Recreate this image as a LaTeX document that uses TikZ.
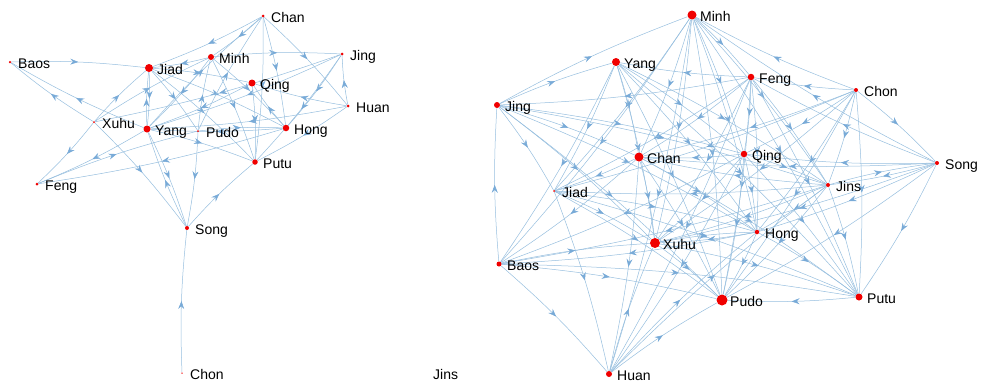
\documentclass[tikz,border=0pt]{standalone}
\usepackage{fontspec}
\setmainfont{Liberation Sans}
\usetikzlibrary{arrows.meta,decorations.markings}
\pgfdeclarelayer{edges}
\pgfsetlayers{edges,main}
\definecolor{edgeblue}{RGB}{150,190,222}
\definecolor{tipblue}{RGB}{120,170,215}
\definecolor{dotred}{RGB}{240,0,0}
\tikzset{
  dot/.style={circle,fill=dotred,draw=none,inner sep=0pt},
  lbl/.style={anchor=base west,inner sep=0pt,font=\fontsize{14}{16}\selectfont,text=black},
  edge/.style={draw=edgeblue,line width=0.5pt,bend left=4,
    postaction={decorate},
    decoration={markings,mark=at position 0.5 with {\arrow[tipblue]{Stealth[length=8pt,width=6pt,inset=2.8pt]}}}}
}
\newcommand{\gnode}[5]{%
  \node[dot,minimum size=#4pt] (#1) at (#2,#3) {};
  \node[lbl] (#1lab) at (#2+8,#3+6) {#5};}
\begin{document}
\begin{tikzpicture}[x=1pt,y=-1pt]
\useasboundingbox (0,0) rectangle (983,386);
% ---------- left graph nodes
\gnode{LChan}{263}{16}{3}{Chan}
\gnode{LBaos}{10}{62}{2.5}{Baos}
\gnode{LJiad}{149}{68}{8}{Jiad}
\gnode{LMinh}{211}{57}{6}{Minh}
\gnode{LJing}{342}{54}{3}{Jing}
\gnode{LQing}{252}{83}{7}{Qing}
\gnode{LHuan}{348}{106}{3}{Huan}
\gnode{LXuhu}{94}{122}{2}{Xuhu}
\gnode{LYang}{147}{129}{7}{Yang}
\gnode{LPudo}{198}{131}{2}{Pudo}
\gnode{LHong}{286}{128}{6.5}{Hong}
\gnode{LPutu}{255}{162}{5.5}{Putu}
\gnode{LFeng}{37}{184}{3}{Feng}
\gnode{LSong}{187}{228}{4}{Song}
\gnode{LChon}{182}{373}{1.5}{Chon}
\node[lbl] (LJins) at (433,379) {Jins};
% ---------- right graph nodes
\gnode{RMinh}{692}{15}{9}{Minh}
\gnode{RYang}{616}{62}{8}{Yang}
\gnode{RFeng}{751}{77}{6.5}{Feng}
\gnode{RChon}{856}{90}{4}{Chon}
\gnode{RJing}{497}{105}{6}{Jing}
\gnode{RChan}{639}{157}{9}{Chan}
\gnode{RQing}{744}{154}{6.5}{Qing}
\gnode{RSong}{937}{163}{4}{Song}
\gnode{RJins}{828}{185}{4}{Jins}
\gnode{RJiad}{554}{191}{2}{Jiad}
\gnode{RHong}{757}{232}{4.5}{Hong}
\gnode{RXuhu}{655}{243}{10}{Xuhu}
\gnode{RBaos}{499}{264}{5}{Baos}
\gnode{RPudo}{722}{300}{11}{Pudo}
\gnode{RPutu}{859}{297}{7}{Putu}
\gnode{RHuan}{609}{374}{6}{Huan}
\begin{pgfonlayer}{edges}
% ---------- left graph edges
\foreach \a/\b in {Baos/Jiad,Yang/Baos,Xuhu/Baos,Xuhu/Feng,Yang/Feng,Feng/Pudo,Hong/Feng,
  Xuhu/Jiad,Xuhu/Minh,Xuhu/Song,Jiad/Yang,Yang/Jiad,Jiad/Putu,Jiad/Hong,Jiad/Pudo,Chan/Jiad,Yang/Chan,
  Minh/Jiad,Minh/Jing,Chan/Putu,Chan/Huan,Chan/Hong,Huan/Jing,Jing/Yang,Jing/Hong,Huan/Yang,
  Hong/Yang,Qing/Yang,Minh/Putu,Minh/Hong,Minh/Yang,Yang/Song,Song/Yang,Pudo/Song,Song/Putu,
  Chon/Song,Yang/Putu,Pudo/Hong,Huan/Putu,Hong/Qing,Jing/Xuhu,Pudo/Chan,Huan/Qing,Jiad/Qing,
  Jing/Putu,Pudo/Minh,Qing/Putu,Chan/Minh}
  \draw[edge] (L\a) to (L\b);
% ---------- right graph edges
\foreach \a/\b in {Jing/Minh,Jing/Yang,Feng/Yang,Chon/Minh,Song/Minh,Chon/Feng,
  Minh/Chan,Minh/Jiad,Minh/Qing,Minh/Jins,Minh/Hong,Minh/Xuhu,Minh/Pudo,Minh/Feng,Minh/Putu,Minh/Huan,Minh/Baos,
  Yang/Chan,Yang/Jiad,Yang/Xuhu,Yang/Qing,Yang/Jins,Yang/Hong,Yang/Baos,Yang/Putu,Yang/Pudo,
  Feng/Qing,Feng/Chan,Feng/Jiad,Feng/Xuhu,Feng/Hong,Feng/Pudo,Feng/Jins,Feng/Putu,Feng/Jing,Song/Feng,Feng/Huan,
  Chon/Qing,Chon/Chan,Chon/Putu,Chon/Song,Chon/Hong,Chon/Xuhu,Chon/Pudo,Chon/Jins,Chon/Jiad,
  Jing/Chan,Jing/Qing,Jing/Jins,Jing/Xuhu,Jing/Pudo,Baos/Jing,Jing/Jiad,Jing/Hong,
  Qing/Chan,Song/Chan,Chan/Xuhu,Chan/Pudo,Chan/Huan,Chan/Hong,Chan/Baos,Chan/Putu,Jins/Chan,Chan/Jiad,
  Song/Qing,Qing/Jins,Qing/Xuhu,Qing/Pudo,Qing/Huan,Qing/Baos,Qing/Hong,Qing/Putu,
  Song/Jins,Jins/Song,Song/Putu,Song/Hong,Song/Pudo,Song/Xuhu,
  Jins/Hong,Jins/Xuhu,Jins/Pudo,Jins/Putu,Jins/Baos,Jins/Jiad,Huan/Jins,
  Jiad/Xuhu,Jiad/Hong,Jiad/Pudo,Jiad/Huan,Jiad/Putu,
  Hong/Xuhu,Xuhu/Hong,Hong/Pudo,Hong/Putu,Hong/Baos,Huan/Hong,
  Baos/Xuhu,Xuhu/Pudo,Huan/Xuhu,Xuhu/Putu,
  Baos/Pudo,Baos/Huan,Baos/Putu,Putu/Pudo,Huan/Pudo}
  \draw[edge] (R\a) to (R\b);
\end{pgfonlayer}
\end{tikzpicture}
\end{document}
